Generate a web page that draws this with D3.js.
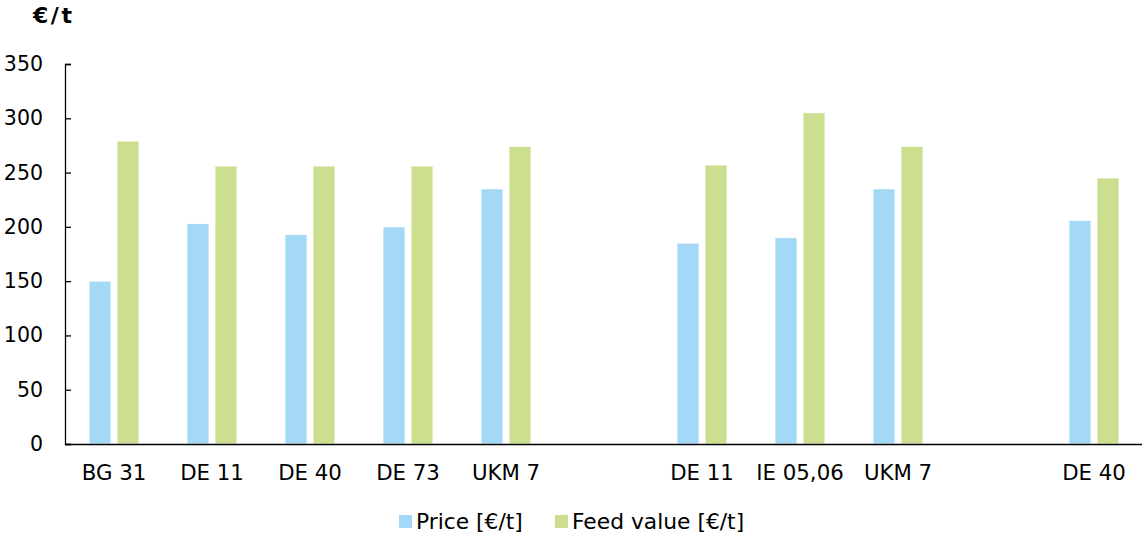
<!DOCTYPE html>
<html>
<head>
<meta charset="utf-8">
<script src="https://cdn.jsdelivr.net/npm/d3@7"></script>
<style>
  html, body { margin: 0; padding: 0; background: #fff; }
  svg { display: block; font-family: "DejaVu Sans", Verdana, sans-serif; }
</style>
</head>
<body>
<svg id="chart" width="1142" height="535"></svg>
<script>
// Category slots along the x axis (empty strings are spacer slots)
const categories = ["BG 31", "DE 11", "DE 40", "DE 73", "UKM 7", "", "DE 11", "IE 05,06", "UKM 7", "", "DE 40"];
// Values per slot, null where the slot is empty
const priceValues = [150, 203, 193, 200, 235, null, 185, 190, 235, null, 206];
const feedValues  = [279, 256, 256, 256, 274, null, 257, 305, 274, null, 245];
const seriesNames = ["Price [€/t]", "Feed value [€/t]"];
const seriesColors = ["#a3d9f6", "#cbdf8f"];
const yTicks = [0, 50, 100, 150, 200, 250, 300, 350];
const unitLabel = "€/t";

const svg = d3.select("#chart");
const margin = { left: 65, right: 0, top: 64, bottom: 91 };
const W = 1142, H = 535;
const plotBottom = H - margin.bottom; // 444

const slots = categories.map((c, i) => i);
const x0 = d3.scaleBand().domain(slots).range([margin.left, margin.left + 98 * slots.length]).padding(0);
const x1 = d3.scaleBand().domain([0, 1]).range([0, x0.bandwidth()])
  .paddingInner(6 / 28).paddingOuter(0.857);
const y = d3.scaleLinear().domain([0, 350]).range([plotBottom, margin.top]);

const rows = slots.map(i => ({ i, vals: [priceValues[i], feedValues[i]] }));

// Bars
const groups = svg.append("g").selectAll("g").data(rows).join("g")
  .attr("transform", d => `translate(${x0(d.i)},0)`);
groups.selectAll("rect")
  .data(d => d.vals.map((v, k) => ({ v, k })).filter(e => e.v != null))
  .join("rect")
  .attr("x", e => x1(e.k))
  .attr("width", x1.bandwidth())
  .attr("y", e => y(e.v))
  .attr("height", e => y(0) - y(e.v))
  .attr("fill", e => seriesColors[e.k])
  .attr("stroke", "#fff")
  .attr("stroke-width", 0.8);

// Y axis with inward ticks
const yAxis = svg.append("g")
  .attr("transform", `translate(${margin.left},0)`)
  .call(d3.axisLeft(y).tickValues(yTicks).tickSize(-6).tickPadding(22).tickSizeOuter(-6));
yAxis.select(".domain").attr("stroke", "#000").attr("stroke-width", 1.3);
yAxis.selectAll(".tick line").attr("stroke", "#000").attr("stroke-width", 1.3);
yAxis.selectAll(".tick text")
  .attr("font-size", 20.5).attr("fill", "#000")
  .attr("font-family", "DejaVu Sans, Verdana, sans-serif");

// X axis baseline and category labels
const xAxis = svg.append("g")
  .attr("transform", `translate(0,${plotBottom})`)
  .call(d3.axisBottom(x0).tickSize(0).tickSizeOuter(0).tickPadding(21).tickFormat(i => categories[i]));
xAxis.select(".domain").attr("stroke", "#000").attr("stroke-width", 1.5);
xAxis.selectAll(".tick text")
  .attr("font-size", 21.3).attr("fill", "#000")
  .attr("font-family", "DejaVu Sans, Verdana, sans-serif");

// Unit label
svg.append("text")
  .attr("x", 33).attr("y", 23)
  .attr("font-size", 22).attr("font-weight", "bold")
  .attr("textLength", 39).attr("lengthAdjust", "spacing")
  .text(unitLabel);

// Legend
const legendX = [399, 555];
const legend = svg.append("g");
seriesNames.forEach((name, k) => {
  legend.append("rect")
    .attr("x", legendX[k]).attr("y", 515)
    .attr("width", 13).attr("height", 13)
    .attr("fill", seriesColors[k]);
  legend.append("text")
    .attr("x", legendX[k] + 17).attr("y", 529)
    .attr("font-size", 21.8)
    .text(name);
});
</script>
</body>
</html>
